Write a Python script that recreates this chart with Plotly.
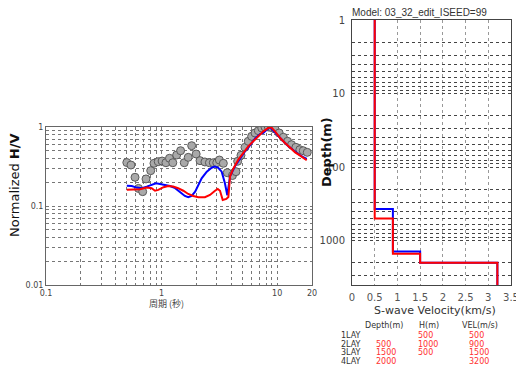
import plotly.graph_objects as go
import math

# ---------------- data ----------------
period_obs = [0.50, 0.543, 0.589, 0.631, 0.686, 0.733, 0.805, 0.859, 0.935, 1.01, 1.09, 1.17, 1.25,
              1.35, 1.46, 1.57, 1.70, 1.82, 1.99, 2.15, 2.37, 2.59, 2.80, 3.00, 3.16, 3.42, 3.70,
              4.10, 4.40, 4.55, 4.86, 5.26, 5.62, 6.01, 6.43, 6.87, 7.35, 7.84, 8.38, 8.96, 9.57,
              10.4, 11.3, 12.3, 13.3, 14.5, 15.7, 16.8, 18.2]
hv_obs = [0.355, 0.330, 0.231, 0.167, 0.152, 0.220, 0.280, 0.347, 0.364, 0.371, 0.353, 0.402, 0.353,
          0.442, 0.501, 0.353, 0.413, 0.580, 0.455, 0.375, 0.361, 0.353, 0.353, 0.353, 0.382, 0.347, 0.264,
          0.243, 0.272, 0.368, 0.438, 0.553, 0.659, 0.762, 0.840, 0.898, 0.971, 1.0, 1.0, 0.98, 0.943,
          0.840, 0.741, 0.659, 0.597, 0.553, 0.516, 0.501, 0.478]

period_blue = [0.50, 0.551, 0.610, 0.673, 0.743, 0.820, 0.895, 0.968, 1.07, 1.18, 1.31, 1.44, 1.59,
               1.70, 1.82, 1.95, 2.08, 2.22, 2.46, 2.71, 2.90, 3.09, 3.31, 3.53, 3.70, 3.91, 4.31,
               4.77, 5.26, 5.82, 6.43, 7.10, 7.59, 8.11, 8.67, 9.25, 10.2, 11.3, 12.5, 13.8, 15.2,
               16.8, 18.0]
hv_blue = [0.181, 0.179, 0.171, 0.168, 0.176, 0.185, 0.194, 0.190, 0.185, 0.179, 0.168, 0.152, 0.134,
           0.129, 0.134, 0.152, 0.185, 0.224, 0.272, 0.305, 0.315, 0.305, 0.272, 0.194, 0.137, 0.238, 0.318,
           0.405, 0.492, 0.586, 0.711, 0.815, 0.840, 0.924, 1.0, 0.898, 0.762, 0.659, 0.570, 0.501, 0.455,
           0.417, 0.394]

period_red = [0.50, 0.569, 0.650, 0.743, 0.820, 0.877, 0.936, 1.04, 1.14, 1.26, 1.39, 1.54, 1.70,
              1.88, 2.08, 2.37, 2.62, 2.90, 3.06, 3.20, 3.38, 3.63, 3.78, 3.91, 4.17, 4.61, 5.09,
              5.62, 6.21, 6.87, 7.59, 8.38, 8.84, 9.57, 10.6, 11.7, 12.9, 14.3, 15.7, 18.0]
hv_red = [0.160, 0.160, 0.163, 0.171, 0.168, 0.156, 0.160, 0.173, 0.179, 0.176, 0.168, 0.156, 0.142,
          0.134, 0.129, 0.129, 0.138, 0.156, 0.164, 0.156, 0.119, 0.123, 0.130, 0.238, 0.297, 0.386, 0.469,
          0.570, 0.659, 0.762, 0.882, 0.971, 1.0, 0.882, 0.726, 0.627, 0.542, 0.478, 0.438, 0.379]

# velocity profiles (km/s) and layer boundary depths (m)
vel_red = [0.5, 0.9, 1.5, 3.2]
bound_red = [500, 1500, 2000]
vel_blue = [0.5, 0.9, 1.5, 3.2]
bound_blue = [370, 1400, 2000]

# table
lay_names = ["1LAY", "2LAY", "3LAY", "4LAY"]
lay_depth = ["", "500", "1500", "2000"]
lay_h = ["500", "1000", "500", ""]
lay_vel = ["500", "900", "1500", "3200"]

# ticks
hv_x_ticks = [0.1, 1, 10, 20]
hv_y_ticks = [0.01, 0.1, 1]
vs_x_ticks = [0, 0.5, 1, 1.5, 2, 2.5, 3, 3.5]
depth_ticks = [1, 10, 100, 1000]

DEPTH_TOP, DEPTH_BOT = 1, 4000


def fmt(v):
    return ("%g" % v)


def log_grid(lo_dec, hi_dec, maxval=None):
    vals = []
    for d in range(lo_dec, hi_dec + 1):
        for m in range(1, 10):
            v = m * 10 ** d
            if maxval is not None and v > maxval * 1.0001:
                continue
            vals.append(round(v, 6))
    return vals


def step_profile(vel, bounds):
    xs, ys = [], []
    tops = [DEPTH_TOP] + bounds
    bots = bounds + [DEPTH_BOT]
    for v, t, b in zip(vel, tops, bots):
        xs += [v, v]
        ys += [t, b]
    return xs, ys


fig = go.Figure()

# ---- left H/V plot ----
fig.add_trace(go.Scatter(x=period_obs, y=hv_obs, mode="markers", xaxis="x", yaxis="y",
                         marker=dict(size=8, color="#a9a9a9", line=dict(color="#5a5a5a", width=1)),
                         showlegend=False))
fig.add_trace(go.Scatter(x=period_blue, y=hv_blue, mode="lines", xaxis="x", yaxis="y",
                         line=dict(color="#0000ff", width=2), showlegend=False))
fig.add_trace(go.Scatter(x=period_red, y=hv_red, mode="lines", xaxis="x", yaxis="y",
                         line=dict(color="#ff0000", width=2), showlegend=False))

# ---- right profile plot ----
bx, by = step_profile(vel_blue, bound_blue)
rx, ry = step_profile(vel_red, bound_red)
fig.add_trace(go.Scatter(x=bx, y=by, mode="lines", xaxis="x2", yaxis="y2",
                         line=dict(color="#0000ff", width=2), showlegend=False))
fig.add_trace(go.Scatter(x=rx, y=ry, mode="lines", xaxis="x2", yaxis="y2",
                         line=dict(color="#ff0000", width=2), showlegend=False))

# the page body has an 8px default margin: the figure starts at (8, 8)
OFF = 8
W, H = 524 - OFF, 376 - OFF


def px_x(p):
    return (p - OFF) / W


def px_y(p):
    return 1 - (p - OFF) / H


hx_vals = log_grid(-1, 1, maxval=20)
hx_text = [fmt(v) if v in hv_x_ticks else "" for v in hx_vals]
hy_vals = log_grid(-2, -1) + [1]
hy_text = [fmt(v) if v in hv_y_ticks else "" for v in hy_vals]

dx_vals = log_grid(0, 3, maxval=DEPTH_BOT)
dx_text = [fmt(v) if v in depth_ticks else "" for v in dx_vals]

tickfont_small = dict(family="DejaVu Sans", size=8, color="#444")
gridc = "#777"

fig.update_layout(
    template="none",
    width=W, height=H,
    margin=dict(l=0, r=0, t=0, b=0, pad=0, autoexpand=False),
    paper_bgcolor="white", plot_bgcolor="white",
    xaxis=dict(domain=[px_x(46), px_x(312)], type="log", range=[-1, math.log10(20)],
               tickvals=hx_vals, ticktext=hx_text, tickfont=tickfont_small, ticks="",
               showgrid=True, gridcolor=gridc, griddash="dot", gridwidth=1,
               showline=True, linecolor="#666", linewidth=1, mirror=True, zeroline=False,
               anchor="y", automargin=False, ticklabelstandoff=0),
    yaxis=dict(domain=[px_y(285), px_y(127)], type="log", range=[-2, 0],
               tickvals=hy_vals, ticktext=hy_text, tickfont=tickfont_small, ticks="",
               showgrid=True, gridcolor=gridc, griddash="dot", gridwidth=1,
               showline=True, linecolor="#666", linewidth=1, mirror=True, zeroline=False,
               anchor="x", automargin=False),
    xaxis2=dict(domain=[px_x(352), px_x(511)], range=[0, 3.5],
                tickvals=vs_x_ticks, ticktext=[fmt(v) for v in vs_x_ticks],
                tickfont=dict(family="DejaVu Sans", size=10, color="#555"), ticks="",
                showgrid=True, gridcolor="#999", griddash="dot", gridwidth=1,
                showline=True, linecolor="#444", linewidth=1, mirror=True, zeroline=False,
                anchor="y2", automargin=False, ticklabelstandoff=3),
    yaxis2=dict(domain=[px_y(285), px_y(20)], type="log",
                range=[math.log10(DEPTH_BOT), math.log10(DEPTH_TOP)],
                tickvals=dx_vals, ticktext=dx_text,
                tickfont=dict(family="DejaVu Sans", size=10, color="#444"), ticks="",
                showgrid=True, gridcolor="#444", griddash="dot", gridwidth=1,
                showline=True, linecolor="#444", linewidth=1, mirror=True, zeroline=False,
                anchor="x2", automargin=False, ticklabelstandoff=4),
)


def txt(text, x, y, size, color="#333", family="DejaVu Sans", xanchor="center", angle=0):
    return dict(text=text, x=px_x(x), y=px_y(y), xref="paper", yref="paper",
                xanchor=xanchor, yanchor="middle", textangle=angle, showarrow=False,
                borderpad=0, font=dict(family=family, size=size, color=color))


ann = []
ann.append(txt("Normalized <b>H/V</b>", 14, 185, 13, "#111", angle=-90))
ann.append(txt("周期 (秒)", 166, 303, 9, "#444", family="Noto Sans CJK JP"))
ann.append(txt("Model: 03_32_edit_ISEED=99", 351, 12, 10, "#333", family="Liberation Sans", xanchor="left"))
ann.append(txt("<b>Depth(m)</b>", 326, 152, 13, "#111", angle=-90))
ann.append(txt("S-wave Velocity(km/s)", 435, 310, 11, "#333"))

ann.append(txt("Depth(m)", 384, 325, 8))
ann.append(txt("H(m)", 429, 325, 8))
ann.append(txt("VEL(m/s)", 480, 325, 8))
row_y = [335.5, 344, 352.5, 361]
red = "#ff3030"
for i, name in enumerate(lay_names):
    yy = row_y[i]
    ann.append(txt(name, 362, yy, 8, xanchor="right"))
    if lay_depth[i]:
        ann.append(txt(lay_depth[i], 375, yy, 8, red, xanchor="left"))
    if lay_h[i]:
        ann.append(txt(lay_h[i], 417, yy, 8, red, xanchor="left"))
    ann.append(txt(lay_vel[i], 468, yy, 8, red, xanchor="left"))

fig.update_layout(annotations=ann)
fig.write_html("out.html")
